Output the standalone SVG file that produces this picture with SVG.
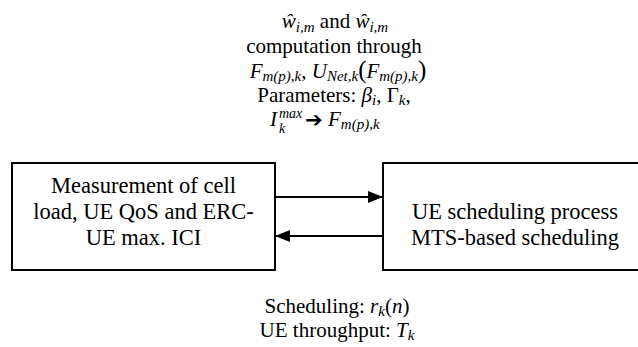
<svg xmlns="http://www.w3.org/2000/svg" width="638" height="347" viewBox="0 0 638 347">
<defs>
<style>
.t{font-family:"Liberation Serif","Times New Roman",serif;font-size:21px;fill:#000}
.b{font-size:22.5px}
.m{font-style:italic}
.s{font-size:15px;font-style:italic}
.p{font-size:25px}
.box{fill:#fff;stroke:#000;stroke-width:2}
.ln{stroke:#000;stroke-width:2;fill:none}
</style>
<marker id="ah" markerWidth="15" markerHeight="12" refX="15" refY="6" orient="auto" markerUnits="userSpaceOnUse">
<path d="M0,0 L15,6 L0,12 Z" fill="#000"/>
</marker>
</defs>
<rect width="638" height="347" fill="#fff"/>
<g id="top-label">
<text class="t" x="335" y="28" text-anchor="middle"><tspan class="m">ŵ</tspan><tspan class="s" dy="4">i,m</tspan><tspan dy="-4"> and </tspan><tspan class="m">ŵ</tspan><tspan class="s" dy="4">i,m</tspan></text>
<text class="t" x="334" y="53" text-anchor="middle">computation through</text>
<text class="t" x="338" y="78" text-anchor="middle"><tspan class="m">F</tspan><tspan class="s" dy="3">m(p),k</tspan><tspan dy="-3">, </tspan><tspan class="m">U</tspan><tspan class="s" dy="3">Net,k</tspan><tspan class="p" dy="-3">(</tspan><tspan class="m">F</tspan><tspan class="s" dy="3">m(p),k</tspan><tspan class="p" dy="-3">)</tspan></text>
<text class="t" x="334" y="102" text-anchor="middle">Parameters: <tspan class="m">β</tspan><tspan class="s" dy="3">i</tspan><tspan dy="-3">, Γ</tspan><tspan class="s" dy="3">k</tspan><tspan dy="-3">,</tspan></text>
<text class="t m" x="270" y="126">I</text>
<text class="t s" x="279" y="133" style="font-size:14px">k</text>
<text class="t s" x="279" y="118" style="font-size:14px">max</text>
<text class="t" x="305" y="127" style="font-family:'DejaVu Sans',sans-serif;font-size:21px;font-weight:bold">➔</text>
<text class="t" x="328" y="126"><tspan class="m">F</tspan><tspan class="s" dy="3">m(p),k</tspan></text>
</g>
<g id="node-measurement">
<rect class="box" x="12" y="163" width="263" height="107"/>
<text class="t b" x="143.5" y="193" text-anchor="middle">Measurement of cell</text>
<text class="t b" x="143.5" y="219" text-anchor="middle">load, UE QoS and ERC-</text>
<text class="t b" x="143.5" y="245" text-anchor="middle">UE max. ICI</text>
</g>
<g id="node-scheduling">
<rect class="box" x="383" y="163" width="265" height="107"/>
<text class="t b" x="515" y="219" text-anchor="middle">UE scheduling process</text>
<text class="t b" x="515" y="245" text-anchor="middle">MTS-based scheduling</text>
</g>
<g id="bottom-label">
<text class="t" x="337" y="313" text-anchor="middle">Scheduling: <tspan class="m">r</tspan><tspan class="s" dy="3">k</tspan><tspan dy="-3">(</tspan><tspan class="m">n</tspan>)</text>
<text class="t" x="337" y="337" text-anchor="middle">UE throughput: <tspan class="m">T</tspan><tspan class="s" dy="3">k</tspan></text>
</g>
<g id="connectors">
<line class="ln" x1="275" y1="197" x2="383" y2="197" marker-end="url(#ah)"/>
<line class="ln" x1="383" y1="236" x2="275" y2="236" marker-end="url(#ah)"/>
</g>
</svg>
